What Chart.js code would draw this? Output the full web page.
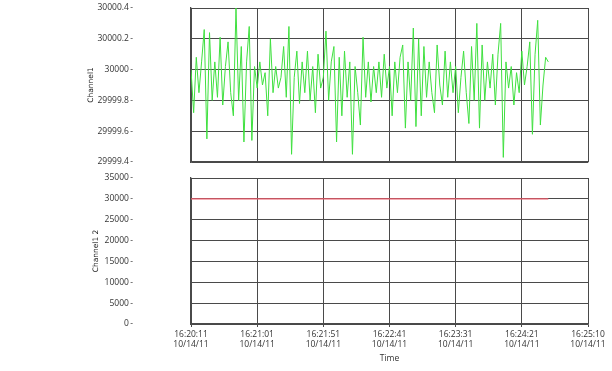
<!DOCTYPE html>
<html>
<head>
<meta charset="utf-8">
<script src="https://cdn.jsdelivr.net/npm/chart.js@4.4.1/dist/chart.umd.min.js"></script>
<style>
html,body{margin:0;padding:0;background:#fff;}
#wrap{position:relative;width:612px;height:371px;}
#c1{position:absolute;left:0;top:0;}
#c2{position:absolute;left:0;top:170px;}
</style>
</head>
<body>
<div id="wrap">
<canvas id="c1" width="612" height="170"></canvas>
<canvas id="c2" width="612" height="201"></canvas>
</div>
<script>
// ---- data ----
const sampleInterval = 2; // seconds between samples
const channel1Values = [
30000.00,29999.72,30000.08,29999.85,30000.05,30000.26,29999.55,30000.24,29999.80,30000.05,
29999.82,30000.21,29999.77,30000.02,30000.18,29999.85,29999.70,30000.40,29999.80,30000.15,
29999.53,30000.05,30000.28,29999.54,30000.02,29999.88,30000.05,29999.90,29999.98,29999.70,
30000.20,29999.85,30000.02,29999.88,29999.95,30000.15,29999.82,30000.28,29999.45,29999.95,
30000.12,29999.78,30000.05,29999.85,30000.12,29999.80,30000.02,29999.72,30000.10,29999.88,
29999.95,30000.25,29999.80,30000.05,30000.15,29999.53,30000.08,29999.70,30000.12,29999.82,
30000.05,29999.45,30000.02,29999.85,29999.64,30000.21,29999.82,30000.05,29999.79,30000.02,
29999.85,30000.05,29999.82,30000.10,29999.88,30000.02,29999.70,30000.05,29999.85,30000.08,
30000.16,29999.62,30000.05,29999.80,30000.27,29999.63,30000.20,29999.70,30000.15,29999.82,
30000.05,29999.85,29999.72,30000.16,29999.90,29999.77,30000.12,29999.82,30000.05,29999.85,
30000.02,29999.72,29999.95,30000.12,29999.85,29999.65,30000.15,29999.80,30000.30,29999.62,
30000.16,29999.80,30000.05,29999.88,30000.10,29999.77,30000.10,30000.30,29999.43,30000.05,
29999.88,30000.02,29999.77,29999.98,29999.85,30000.12,29999.90,30000.02,30000.18,29999.58,
30000.10,30000.32,29999.64,29999.90,30000.08,30000.05
];
const channel2Times = [0, 270];
const channel2Values = [30000, 30000];

const topTickValues = [29999.4, 29999.6, 29999.8, 30000, 30000.2, 30000.4];
const topTickLabels = ["29999.4", "29999.6", "29999.8", "30000", "30000.2", "30000.4"];
const bottomTickValues = [0, 5000, 10000, 15000, 20000, 25000, 30000, 35000];
const bottomTickLabels = ["0", "5000", "10000", "15000", "20000", "25000", "30000", "35000"];
const timeTickValues = [0, 50, 100, 150, 200, 250, 300];
const timeTickLabels = [
  ["16:20:11","10/14/11"], ["16:21:01","10/14/11"], ["16:21:51","10/14/11"],
  ["16:22:41","10/14/11"], ["16:23:31","10/14/11"], ["16:24:21","10/14/11"],
  ["16:25:10","10/14/11"]
];

// ---- styling ----
const gridColor = '#4a4a4a';
const tickFont = {family: "'Open Sans', 'DejaVu Sans', sans-serif", size: 8.5};
const titleFont = {family: "'DejaVu Sans', sans-serif", size: 7.5};
Chart.defaults.color = '#333';
Chart.defaults.animation = false;

function setTicks(values){
  return function(scale){ scale.ticks = values.map(v => ({value: v})); };
}
function lookupLabel(values, labels, dash){
  return function(value){
    const i = values.findIndex(v => Math.abs(v - value) < 1e-6);
    const t = i >= 0 ? labels[i] : '';
    return dash ? t + '\u2009-' : t;
  };
}
function fixY(s){ s.width = 191; s.paddingTop = 0; s.paddingBottom = 0; }

const ch1Data = channel1Values.map((v, i) => ({x: i * sampleInterval, y: v}));
const ch2Data = channel2Values.map((v, i) => ({x: channel2Times[i], y: v}));

new Chart(document.getElementById('c1'), {
  type: 'line',
  data: {datasets: [{data: ch1Data, borderColor: '#3fe03f', borderWidth: 1, pointRadius: 0, tension: 0}]},
  options: {
    responsive: false, devicePixelRatio: 1,
    layout: {padding: {left: 0, right: 24, top: 8, bottom: 0}},
    plugins: {legend: {display: false}, tooltip: {enabled: false}},
    scales: {
      x: {
        type: 'linear', min: 0, max: 300,
        afterBuildTicks: setTicks(timeTickValues),
        afterFit: s => { s.height = 8; s.paddingLeft = 0; s.paddingRight = 0; },
        ticks: {display: false},
        grid: {color: gridColor, drawTicks: false},
        border: {color: gridColor, width: 1.3}
      },
      y: {
        min: 29999.4, max: 30000.4,
        afterBuildTicks: setTicks(topTickValues),
        afterFit: fixY,
        ticks: {font: tickFont, padding: 58, callback: lookupLabel(topTickValues, topTickLabels, true)},
        grid: {color: gridColor, drawTicks: false},
        border: {color: gridColor, width: 1.3},
        title: {display: true, text: 'Channel1', font: titleFont, color: '#222', padding: {top: 87, bottom: 0}}
      }
    }
  }
});

new Chart(document.getElementById('c2'), {
  type: 'line',
  data: {datasets: [{data: ch2Data, borderColor: '#ec5a6a', borderWidth: 1.3, pointRadius: 0, tension: 0}]},
  options: {
    responsive: false, devicePixelRatio: 1,
    layout: {padding: {left: 0, right: 24, top: 8, bottom: 0}},
    plugins: {legend: {display: false}, tooltip: {enabled: false}},
    scales: {
      x: {
        type: 'linear', min: 0, max: 300,
        afterBuildTicks: setTicks(timeTickValues),
        afterFit: s => { s.height = 47; s.paddingLeft = 0; s.paddingRight = 0; },
        ticks: {font: tickFont, padding: 2, maxRotation: 0, autoSkip: false, callback: lookupLabel(timeTickValues, timeTickLabels, false)},
        grid: {color: gridColor, drawTicks: true, tickLength: 3},
        border: {color: gridColor, width: 1.3},
        title: {display: true, text: 'Time', font: {family: "'Open Sans', sans-serif", size: 8.5}, color: '#333', padding: {top: 0, bottom: 7}}
      },
      y: {
        min: 0, max: 35000,
        afterBuildTicks: setTicks(bottomTickValues),
        afterFit: fixY,
        ticks: {font: tickFont, padding: 58, callback: lookupLabel(bottomTickValues, bottomTickLabels, true)},
        grid: {color: gridColor, drawTicks: false},
        border: {color: gridColor, width: 1.3},
        title: {display: true, text: 'Channel1 2', font: titleFont, color: '#222', padding: {top: 92, bottom: 0}}
      }
    }
  }
});
</script>
</body>
</html>
